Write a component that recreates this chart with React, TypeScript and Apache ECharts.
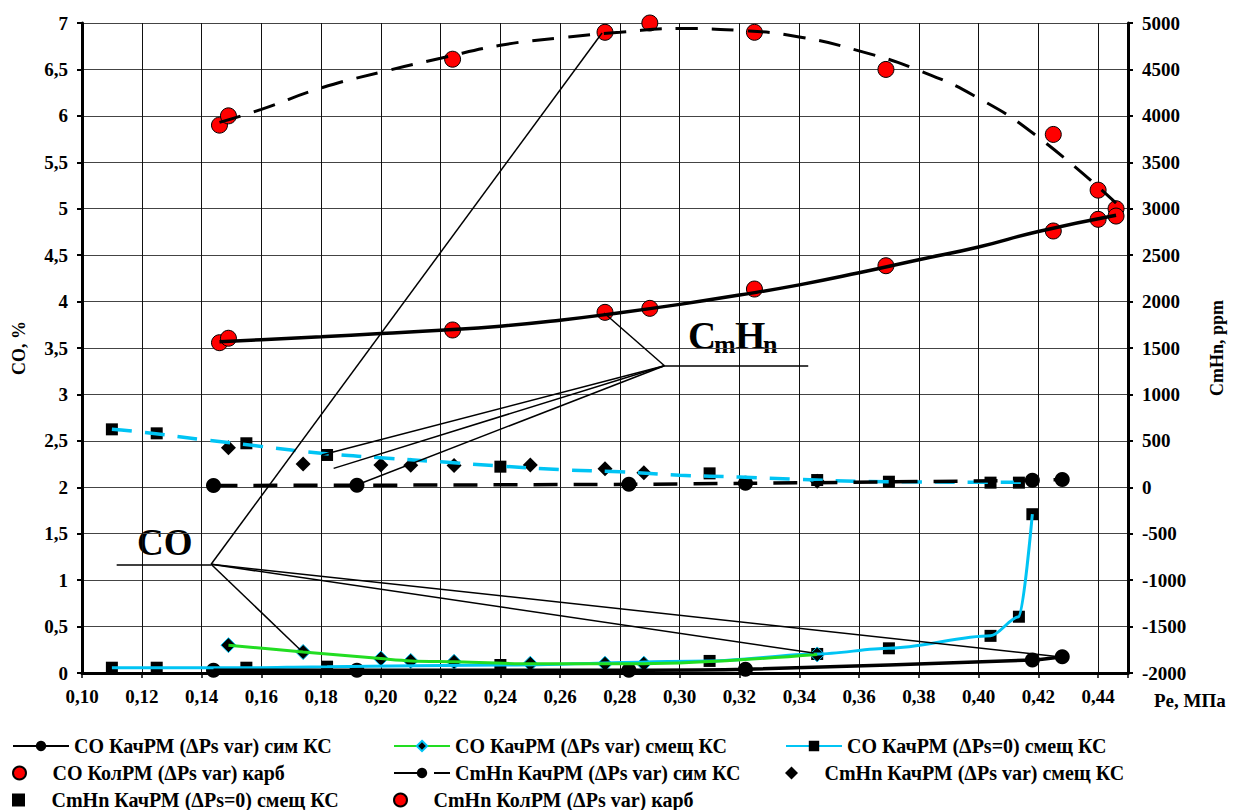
import React, { useEffect, useRef } from 'react';
import * as echarts from 'echarts';

const FONT = '"Liberation Serif", "Times New Roman", serif';

// ---- data (Pe, MPa ; CO, % ; CmHn, ppm) ----
const peKolRM = [0.146, 0.149, 0.224, 0.275, 0.29, 0.325, 0.369, 0.425, 0.44, 0.446];
const coKolRM = [5.9, 6.0, 6.61, 6.9, 7.0, 6.9, 6.5, 5.8, 5.2, 5.0];
const cmhnKolRM = [1557, 1605, 1694, 1884, 1927, 2135, 2386, 2760, 2886, 2921];

const peSim = [0.144, 0.192, 0.283, 0.322, 0.418, 0.428];
const coSim = [0.03, 0.03, 0.03, 0.04, 0.14, 0.175];
const cmhnSim = [20, 22, 32, 43, 75, 85];

const peSmesch = [0.149, 0.174, 0.2, 0.21, 0.2245, 0.25, 0.275, 0.288, 0.346];
const coSmesch = [0.3, 0.226, 0.155, 0.13, 0.12, 0.1, 0.1, 0.1, 0.2];
const cmhnSmesch = [425, 250, 240, 237, 235, 241, 200, 157, 65];

const peZeroCO = [0.11, 0.125, 0.155, 0.182, 0.24, 0.31, 0.346, 0.37, 0.404, 0.4135, 0.418];
const coZero = [0.057, 0.057, 0.057, 0.068, 0.086, 0.13, 0.205, 0.266, 0.4, 0.606, 1.71];
const peZeroHC = [0.11, 0.125, 0.155, 0.182, 0.24, 0.31, 0.346, 0.37, 0.404, 0.4135];
const cmhnZero = [624, 581, 474, 348, 222, 150, 78, 60, 50, 50];

// trend lines
const peTrendKol = [0.146, 0.16, 0.18, 0.2, 0.22, 0.24, 0.26, 0.28, 0.3, 0.32, 0.34, 0.36, 0.38, 0.4, 0.42, 0.446];
const coKolTrend = [5.93, 6.07, 6.3, 6.47, 6.62, 6.76, 6.84, 6.9, 6.94, 6.92, 6.85, 6.7, 6.49, 6.19, 5.77, 5.06];
const cmhnKolTrend = [1568, 1590, 1620, 1655, 1690, 1735, 1800, 1880, 1970, 2070, 2180, 2310, 2450, 2588, 2755, 2930];
const peTrendZero = [0.11, 0.12, 0.14, 0.16, 0.18, 0.2, 0.22, 0.24, 0.26, 0.28, 0.3, 0.32, 0.34, 0.36, 0.38, 0.4, 0.418];
const cmhnZeroTrend = [625, 595, 515, 440, 366, 318, 274, 228, 190, 166, 130, 110, 86, 65, 58, 55, 55];

// leader lines of the annotations (in Pe / CO coordinates)
const leaderCO: number[][][] = [
  [[0.1116, 1.171], [0.1432, 1.171]],
  [[0.1432, 1.171], [0.274, 6.892]],
  [[0.1432, 1.171], [0.1731, 0.248]],
  [[0.1432, 1.171], [0.3448, 0.215]],
  [[0.1432, 1.171], [0.4269, 0.176]],
];
const leaderHC: number[][][] = [
  [[0.2949, 3.309], [0.343, 3.309]],
  [[0.2949, 3.309], [0.2747, 3.877]],
  [[0.2949, 3.309], [0.1802, 2.348]],
  [[0.2949, 3.309], [0.1842, 2.204]],
  [[0.2949, 3.309], [0.1919, 2.025]],
];

const N1 = 'CO КачРМ (ΔPs var) сим КС';
const N2 = 'CO КачРМ (ΔPs var) смещ КС';
const N3 = 'CO КачРМ (ΔPs=0) смещ КС';
const N4 = 'CO КолРМ (ΔPs var) карб';
const N5 = 'CmHn КачРМ (ΔPs var) сим КС';
const N6 = 'CmHn КачРМ (ΔPs var) смещ КС';
const N7 = 'CmHn КачРМ (ΔPs=0) смещ КС';
const N8 = 'CmHn КолРМ (ΔPs var) карб';

const CYAN = '#00c4f4';
const GREEN = '#22dd22';

const zip = (xs: number[], ys: number[]) => xs.map((x, i) => [x, ys[i]]);

const SQUARE = 'path://M0,0H10V10H0Z';
const DIAMOND = 'path://M5,0L10,5L5,10L0,5Z';

function buildOption(): any {
  const textStyle = { fontFamily: FONT, fontWeight: 'bold', fontSize: 20, color: '#000', lineHeight: 18 };
  const legendItem = (name: string, left: number, row: number, icon?: string) => ({
    show: true,
    left,
    top: 736 + row * 27,
    orient: 'horizontal',
    padding: 0,
    itemWidth: 56,
    itemHeight: 13,
    selectedMode: false,
    textStyle,
    data: [icon ? { name, icon } : { name }],
  });

  const axisLabelStyle = { fontFamily: FONT, fontWeight: 'bold', fontSize: 19, color: '#000' };
  const mark = (color: string, extra: any = {}) => ({ color, opacity: 1, ...extra });

  return {
    animation: false,
    backgroundColor: '#fff',
    grid: { left: 82, right: 100, top: 23, bottom: 137, containLabel: false },
    legend: [
      legendItem(N1, 12, 0),
      legendItem(N4, 12, 1),
      legendItem(N7, 12, 2, SQUARE),
      legendItem(N2, 393, 0),
      legendItem(N5, 393, 1),
      legendItem(N8, 393, 2),
      legendItem(N3, 785, 0),
      legendItem(N6, 785, 1, DIAMOND),
    ],
    xAxis: {
      type: 'value',
      min: 0.1,
      max: 0.45,
      interval: 0.02,
      axisLine: { onZero: false, lineStyle: { color: '#000', width: 3 } },
      axisTick: { show: true, length: 5, lineStyle: { color: '#000', width: 1.5 } },
      axisLabel: {
        ...axisLabelStyle,
        margin: 14,
        formatter: (v: number) => (v > 0.445 ? '' : v.toFixed(2).replace('.', ',')),
      },
      splitLine: { show: true, lineStyle: { color: '#111', width: 1 } },
    },
    yAxis: [
      {
        type: 'value',
        min: 0,
        max: 7,
        interval: 0.5,
        position: 'left',
        name: 'CO, %',
        nameLocation: 'middle',
        nameRotate: 90,
        nameGap: 54,
        nameTextStyle: { fontFamily: FONT, fontWeight: 'bold', fontSize: 18, color: '#000' },
        axisLine: { show: true, lineStyle: { color: '#000', width: 3 } },
        axisTick: { show: true, length: 5, lineStyle: { color: '#000', width: 2 } },
        axisLabel: { ...axisLabelStyle, margin: 14, formatter: (v: number) => String(v).replace('.', ',') },
        splitLine: { show: true, lineStyle: { color: '#444', width: 1 } },
      },
      {
        type: 'value',
        min: -2000,
        max: 5000,
        interval: 500,
        position: 'right',
        name: 'CmHn, ppm',
        nameLocation: 'middle',
        nameRotate: 90,
        nameGap: 80,
        nameTextStyle: { fontFamily: FONT, fontWeight: 'bold', fontSize: 18, color: '#000' },
        axisLine: { show: true, lineStyle: { color: '#000', width: 3 } },
        axisTick: { show: true, length: 5, lineStyle: { color: '#000', width: 2 } },
        axisLabel: { ...axisLabelStyle, margin: 14, formatter: (v: number) => String(v) },
        splitLine: { show: false },
      },
    ],
    graphic: [
      { type: 'text', x: 137, y: 542, style: { text: 'CO', fontFamily: FONT, fontWeight: 'bold', fontSize: 37, fill: '#000', align: 'left', verticalAlign: 'middle' } },
      { type: 'text', x: 688, y: 335, style: { text: 'C', fontFamily: FONT, fontWeight: 'bold', fontSize: 39, fill: '#000', align: 'left', verticalAlign: 'middle' } },
      { type: 'text', x: 714, y: 344, style: { text: 'm', fontFamily: FONT, fontWeight: 'bold', fontSize: 26, fill: '#000', align: 'left', verticalAlign: 'middle' } },
      { type: 'text', x: 735, y: 335, style: { text: 'H', fontFamily: FONT, fontWeight: 'bold', fontSize: 39, fill: '#000', align: 'left', verticalAlign: 'middle' } },
      { type: 'text', x: 763, y: 344, style: { text: 'n', fontFamily: FONT, fontWeight: 'bold', fontSize: 26, fill: '#000', align: 'left', verticalAlign: 'middle' } },
      { type: 'text', x: 1154, y: 700, style: { text: 'Pe, МПа', fontFamily: FONT, fontWeight: 'bold', fontSize: 19, fill: '#000', align: 'left', verticalAlign: 'middle' } },
    ],
    series: [
      // trend lines
      {
        type: 'line', name: 't1', yAxisIndex: 0, data: zip(peTrendKol, coKolTrend), smooth: true,
        symbol: 'none', silent: true, lineStyle: { color: '#000', width: 3, type: [22, 14] },
      },
      {
        type: 'line', name: 't2', yAxisIndex: 1, data: zip(peTrendKol, cmhnKolTrend), smooth: true,
        symbol: 'none', silent: true, lineStyle: { color: '#000', width: 3.5 },
      },
      {
        type: 'line', name: 't3', yAxisIndex: 1, data: zip(peTrendZero, cmhnZeroTrend), smooth: true,
        symbol: 'none', silent: true, lineStyle: { color: CYAN, width: 3.5, type: [20, 13] },
      },
      // lines of the measured series
      {
        type: 'line', name: N3, yAxisIndex: 0, data: zip(peZeroCO, coZero), smooth: 0.3, smoothMonotone: 'x',
        symbol: 'rect', symbolSize: 12, showSymbol: false,
        lineStyle: { color: CYAN, width: 3 }, itemStyle: mark('#000'),
      },
      {
        type: 'line', name: N2, yAxisIndex: 0, data: zip(peSmesch, coSmesch), smooth: 0.3,
        symbol: 'diamond', symbolSize: 14, showSymbol: false,
        lineStyle: { color: GREEN, width: 3 }, itemStyle: mark('#000', { borderColor: CYAN, borderWidth: 1 }),
      },
      {
        type: 'line', name: N1, yAxisIndex: 0, data: zip(peSim, coSim), smooth: 0.3,
        symbol: 'circle', symbolSize: 15, showSymbol: false,
        lineStyle: { color: '#000', width: 3.5 }, itemStyle: mark('#000'),
      },
      {
        type: 'line', name: N5, yAxisIndex: 1, data: zip(peSim, cmhnSim), smooth: 0.3,
        symbol: 'circle', symbolSize: 15, showSymbol: false,
        lineStyle: { color: '#000', width: 3.5, type: [24, 16] }, itemStyle: mark('#000'),
      },
      // markers
      {
        type: 'scatter', name: 'm3', yAxisIndex: 0, data: zip(peZeroCO, coZero), symbol: 'rect', symbolSize: 12,
        itemStyle: mark('#000'),
      },
      {
        type: 'scatter', name: 'm2', yAxisIndex: 0, data: zip(peSmesch, coSmesch), symbol: 'diamond', symbolSize: 15,
        itemStyle: mark('#000', { borderColor: CYAN, borderWidth: 1 }),
      },
      {
        type: 'scatter', name: 'm1', yAxisIndex: 0, data: zip(peSim, coSim), symbol: 'circle', symbolSize: 15,
        itemStyle: mark('#000'),
      },
      {
        type: 'scatter', name: 'm5', yAxisIndex: 1, data: zip(peSim, cmhnSim), symbol: 'circle', symbolSize: 15,
        itemStyle: mark('#000'),
      },
      {
        type: 'scatter', name: N7, yAxisIndex: 1, data: zip(peZeroHC, cmhnZero), symbol: 'rect', symbolSize: 12,
        itemStyle: mark('#000'),
      },
      {
        type: 'scatter', name: N6, yAxisIndex: 1, data: zip(peSmesch, cmhnSmesch), symbol: 'diamond', symbolSize: 15,
        itemStyle: mark('#000'),
      },
      {
        type: 'scatter', name: N4, yAxisIndex: 0, data: zip(peKolRM, coKolRM), symbol: 'circle', symbolSize: 16,
        itemStyle: mark('#ff0000', { borderColor: '#000', borderWidth: 1 }),
      },
      {
        type: 'scatter', name: N8, yAxisIndex: 1, data: zip(peKolRM, cmhnKolRM), symbol: 'circle', symbolSize: 16,
        itemStyle: mark('#ff0000', { borderColor: '#000', borderWidth: 1 }),
      },
      // annotation leader lines
      {
        type: 'lines', name: 'leaders', coordinateSystem: 'cartesian2d', xAxisIndex: 0, yAxisIndex: 0,
        silent: true, z: 5,
        lineStyle: { color: '#000', width: 1.5, opacity: 1, curveness: 0 },
        data: [...leaderCO, ...leaderHC].map((c) => ({ coords: c })),
      },
    ],
  };
}

export default function App() {
  const ref = useRef<HTMLDivElement>(null);
  useEffect(() => {
    if (!ref.current) return;
    const chart = echarts.init(ref.current, null, { renderer: 'svg' });
    chart.setOption(buildOption());
    return () => chart.dispose();
  }, []);
  return (
    <div
      ref={ref}
      style={{ position: 'fixed', left: 0, top: 0, width: 1234, height: 810, background: '#fff' }}
    />
  );
}
